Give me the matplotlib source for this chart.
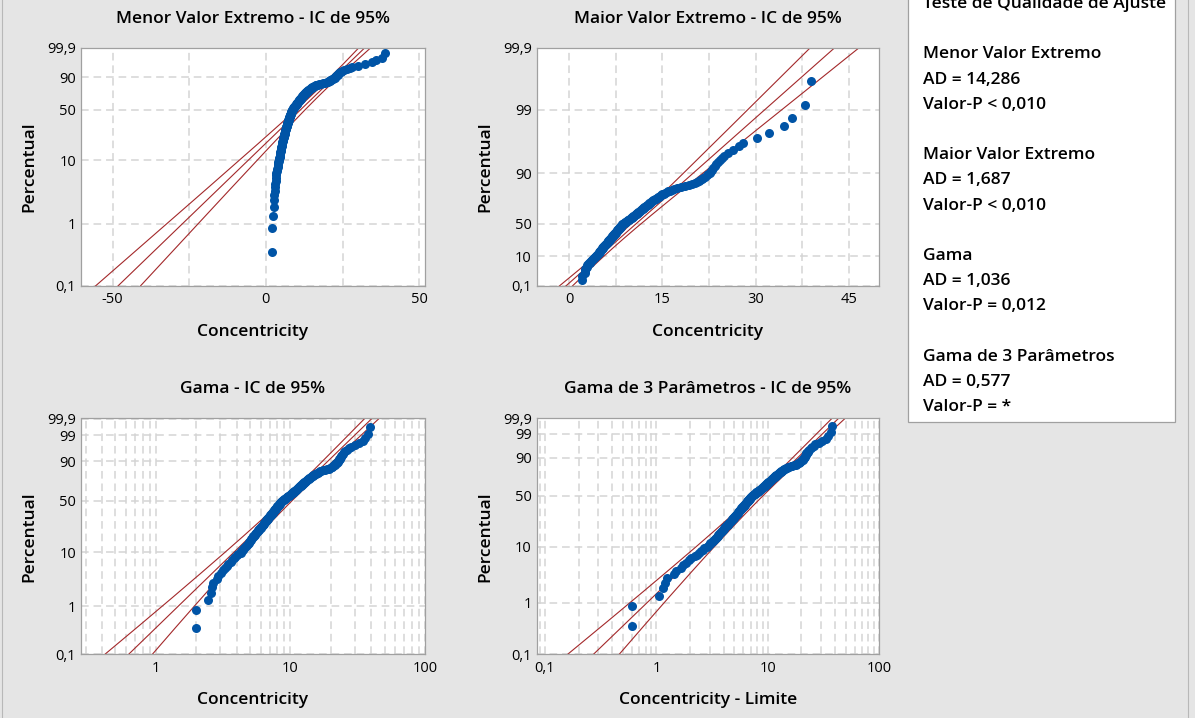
import math
import numpy as np
import matplotlib
matplotlib.use("Agg")
import matplotlib.pyplot as plt
from matplotlib.ticker import FixedLocator, FuncFormatter, MultipleLocator, LogLocator, NullFormatter
from matplotlib.patches import Rectangle
from matplotlib.lines import Line2D

# concentricity sample (sorted)
concentricity = [
    2.0, 2.0, 2.45, 2.55, 2.6, 2.65, 2.85, 2.9, 3.05, 3.15,
    3.25, 3.35, 3.45, 3.6, 3.7, 3.8, 3.9, 4.0, 4.1, 4.25,
    4.3, 4.4, 4.45, 4.55, 4.6, 4.7, 4.75, 4.8, 4.9, 4.95,
    5.0, 5.05, 5.1, 5.2, 5.25, 5.3, 5.35, 5.4, 5.45, 5.5,
    5.55, 5.6, 5.7, 5.75, 5.8, 5.85, 5.9, 6.0, 6.05, 6.1,
    6.15, 6.2, 6.25, 6.3, 6.35, 6.4, 6.45, 6.5, 6.55, 6.6,
    6.65, 6.7, 6.75, 6.8, 6.85, 6.9, 6.95, 7.0, 7.05, 7.1,
    7.15, 7.2, 7.25, 7.3, 7.35, 7.4, 7.45, 7.5, 7.55, 7.6,
    7.65, 7.7, 7.75, 7.8, 7.85, 7.9, 7.95, 8.0, 8.05, 8.1,
    8.15, 8.2, 8.25, 8.3, 8.35, 8.4, 8.45, 8.5, 8.55, 8.6,
    8.7, 8.8, 8.9, 9.0, 9.1, 9.15, 9.25, 9.3, 9.4, 9.5,
    9.6, 9.7, 9.8, 9.9, 10.0, 10.1, 10.15, 10.2, 10.3, 10.4,
    10.5, 10.6, 10.7, 10.8, 10.9, 10.95, 11.0, 11.1, 11.2, 11.3,
    11.4, 11.5, 11.6, 11.7, 11.8, 11.9, 12.0, 12.1, 12.2, 12.3,
    12.4, 12.5, 12.6, 12.75, 12.9, 13.0, 13.1, 13.2, 13.35, 13.5,
    13.65, 13.8, 14.0, 14.1, 14.3, 14.5, 14.6, 14.8, 15.0, 15.2,
    15.4, 15.7, 15.9, 16.2, 16.5, 16.9, 17.4, 18.0, 18.6, 19.2,
    19.8, 20.2, 20.5, 20.8, 21.0, 21.3, 21.6, 21.9, 22.1, 22.4,
    22.6, 22.8, 23.0, 23.2, 23.4, 23.6, 23.9, 24.2, 24.5, 24.9,
    25.6, 26.4, 27.3, 28.0, 30.2, 32.2, 34.5, 35.9, 37.9, 38.9,
]

# fitted parameters
sev_loc, sev_scale = 14.7, 9.1
lev_loc, lev_scale = 8.95, 4.89
gam_shape, gam_scale = 2.9, 3.65
g3_shape, g3_scale, g3_thresh = 2.15, 4.5, 1.4

titles = ["Menor Valor Extremo - IC de 95%", "Maior Valor Extremo - IC de 95%",
          "Gama - IC de 95%", "Gama de 3 Parâmetros - IC de 95%"]
xlabels = ["Concentricity", "Concentricity", "Concentricity", "Concentricity - Limite"]

gof_lines = ["Teste de Qualidade de Ajuste", "",
             "Menor Valor Extremo", "AD = 14,286", "Valor-P < 0,010", "",
             "Maior Valor Extremo", "AD = 1,687", "Valor-P < 0,010", "",
             "Gama", "AD = 1,036", "Valor-P = 0,012", "",
             "Gama de 3 Parâmetros", "AD = 0,577", "Valor-P = *"]

BLUE = "#0054A6"
RED = "#A3282A"
GRID = "#D4D4D4"
BG = "#E5E5E5"
FRAME = "#A0A0A0"

plt.rcParams["font.family"] = ["Open Sans", "DejaVu Sans"]

x = np.array(concentricity)
n = len(x)
rank = np.arange(1, n + 1)
pct = (rank - 0.3) / (n + 0.4) * 100
Z = 1.96


def gamma_cdf(v, k):
    v = np.asarray(v, float)
    out = np.zeros_like(v)
    pos = v > 0
    xs = v[pos]
    term = np.full_like(xs, 1.0 / k)
    total = term.copy()
    for j in range(1, 400):
        term = term * xs / (k + j)
        total += term
    out[pos] = np.exp(k * np.log(xs) - xs - math.lgamma(k)) * total
    return np.clip(out, 0, 1)


def gamma_ppf(p, k):
    p = np.asarray(p, float)
    lo = np.full(p.shape, math.log(1e-9))
    hi = np.full(p.shape, math.log(90.0))
    for _ in range(60):
        mid = 0.5 * (lo + hi)
        below = gamma_cdf(np.exp(mid), k) < p
        lo = np.where(below, mid, lo)
        hi = np.where(below, hi, mid)
    return np.exp(0.5 * (lo + hi))


def trigamma(k):
    s = 0.0
    while k < 6:
        s += 1.0 / k ** 2
        k += 1
    return s + 1 / k + 1 / (2 * k ** 2) + 1 / (6 * k ** 3) - 1 / (30 * k ** 5) + 1 / (42 * k ** 7)


def gamma_scale_funcs(k):
    zg = np.linspace(-16, 16, 2001)
    lq = np.log(gamma_ppf(1 / (1 + np.exp(-zg)), k))

    def fwd(v):
        p = np.clip(np.asarray(v, float) / 100, 1e-7, 1 - 1e-7)
        return np.interp(np.log(p / (1 - p)), zg, lq)

    def inv(y):
        zz = np.interp(y, lq, zg)
        return 100 / (1 + np.exp(-zz))
    return fwd, inv


def lev_fwd(v):
    p = np.clip(np.asarray(v, float) / 100, 1e-9, 1 - 1e-9)
    return -np.log(-np.log(p))


def lev_inv(y):
    return 100 * np.exp(-np.exp(-np.asarray(y, float)))


def sev_fwd(v):
    p = np.clip(np.asarray(v, float) / 100, 1e-9, 1 - 1e-9)
    return np.log(-np.log(1 - p))


def sev_inv(y):
    return 100 * (1 - np.exp(-np.exp(np.asarray(y, float))))


def gamma_log_se(p, k):
    h = 0.01
    d = (np.log(gamma_ppf(p, k + h)) - np.log(gamma_ppf(p, k - h))) / (2 * h)
    tg = trigamma(k)
    var = (k * d ** 2 - 2 * d + tg) / (k * tg - 1)
    return np.sqrt(var / n)


comma = FuncFormatter(lambda v, pos: ("%g" % v).replace(".", ","))

fig = plt.figure(figsize=(11.95, 7.18), dpi=100, facecolor=BG)
W, H = 1195.0, 718.0
boxes = [(81, 47.7, 344, 238), (536.7, 47.7, 342.6, 238),
         (81, 418.5, 344, 235.8), (536.7, 418.5, 342.6, 235.8)]
axes = [fig.add_axes([l / W, 1 - (t + h) / H, w / W, h / H]) for l, t, w, h in boxes]

pl = 1 / (1 + np.exp(-np.linspace(np.log(0.0008 / 0.9992), np.log(0.9992 / 0.0008), 400)))

for i, ax in enumerate(axes):
    ax.set_facecolor("white")
    ax.set_axisbelow(True)
    if i == 0:
        ax.set_yscale("function", functions=(sev_fwd, sev_inv))
        yl = np.log(-np.log(1 - pl))
        mid = sev_loc + sev_scale * yl
        se = sev_scale / np.sqrt(n) * np.sqrt(1.1087 - 0.514 * yl + 0.6079 * yl ** 2)
        lo, hi = mid - Z * se, mid + Z * se
        yticks = [0.1, 1, 10, 50, 90, 99.9]
        ax.set_xlim(-60.3, 51.9)
        ax.xaxis.set_major_locator(MultipleLocator(50))
        ax.xaxis.set_minor_locator(MultipleLocator(25))
        xp = x
    elif i == 1:
        ax.set_yscale("function", functions=(lev_fwd, lev_inv))
        yl = -np.log(-np.log(pl))
        mid = lev_loc + lev_scale * yl
        se = lev_scale / np.sqrt(n) * np.sqrt(1.1087 + 0.514 * yl + 0.6079 * yl ** 2)
        lo, hi = mid - Z * se, mid + Z * se
        yticks = [0.1, 10, 50, 90, 99, 99.9]
        ax.set_xlim(-5.25, 49.9)
        ax.xaxis.set_major_locator(MultipleLocator(15))
        ax.xaxis.set_minor_locator(MultipleLocator(7.5))
        xp = x
    else:
        k, th = (gam_shape, gam_scale) if i == 2 else (g3_shape, g3_scale)
        ax.set_yscale("function", functions=gamma_scale_funcs(k))
        ax.set_xscale("log")
        mid = th * gamma_ppf(pl, k)
        s = gamma_log_se(pl, k)
        lo, hi = mid * np.exp(-Z * s), mid * np.exp(Z * s)
        if i == 2:
            ax.set_xlim(0.277, 100)
            xp = x
        else:
            ax.set_xlim(0.0843, 100)
            xp = x - g3_thresh
        yticks = [0.1, 1, 10, 50, 90, 99, 99.9]
        ax.xaxis.set_major_locator(LogLocator(base=10, numticks=10))
        ax.xaxis.set_minor_locator(LogLocator(base=10, subs=np.arange(2, 10), numticks=20))
        ax.xaxis.set_minor_formatter(NullFormatter())

    for curve in (lo, mid, hi):
        ax.plot(curve, pl * 100, color=RED, lw=0.8, zorder=2)
    ax.plot(xp, pct, "o", ms=6.5, color=BLUE, mec="none", zorder=3)

    ax.set_ylim(0.1, 99.9)
    ax.yaxis.set_major_locator(FixedLocator(yticks))
    ax.yaxis.set_minor_locator(FixedLocator([]))
    ax.yaxis.set_major_formatter(comma)
    ax.xaxis.set_major_formatter(comma)
    ax.grid(True, which="both", color=GRID, lw=1.1, linestyle=(0, (5, 3.2)))
    ax.tick_params(which="both", length=0, labelsize=10.5, colors="black")
    ax.tick_params(axis="y", pad=3.6)
    ax.tick_params(axis="x", pad=4.6)
    for sp in ax.spines.values():
        sp.set_color(FRAME)
        sp.set_linewidth(0.9)

    hpx = boxes[i][3]
    wpx = boxes[i][2]
    ax.set_title(titles[i], fontsize=12.5, fontweight="semibold", pad=17.5 if i < 2 else 18.5)
    ax.set_xlabel(xlabels[i], fontsize=12.5, fontweight="semibold")
    ax.xaxis.label.set_va("baseline")
    ax.xaxis.set_label_coords(0.5, -50 / hpx)
    ax.set_ylabel("Percentual", fontsize=12.5, fontweight="semibold")
    ax.yaxis.label.set_va("baseline")
    ax.yaxis.set_label_coords(-47.5 / wpx, 0.5)

# goodness-of-fit box
fig.add_artist(Rectangle((908 / W, 1 - 421.7 / H), 267 / W, 0.7, transform=fig.transFigure,
                         facecolor="white", edgecolor=FRAME, lw=0.9))
for j, line in enumerate(gof_lines):
    if line:
        fig.text(923 / W, 1 - (8.0 + 25.2 * j) / H, line, fontsize=12.5,
                 fontweight="semibold", va="baseline", ha="left")

fig.add_artist(Line2D([1.5 / W, 1.5 / W], [0, 1], transform=fig.transFigure, color="#B8B8B8", lw=0.8))
fig.add_artist(Line2D([1187.5 / W, 1187.5 / W], [0, 1], transform=fig.transFigure, color="#B8B8B8", lw=0.8))

fig.savefig("out.png", dpi=100, facecolor=BG)
